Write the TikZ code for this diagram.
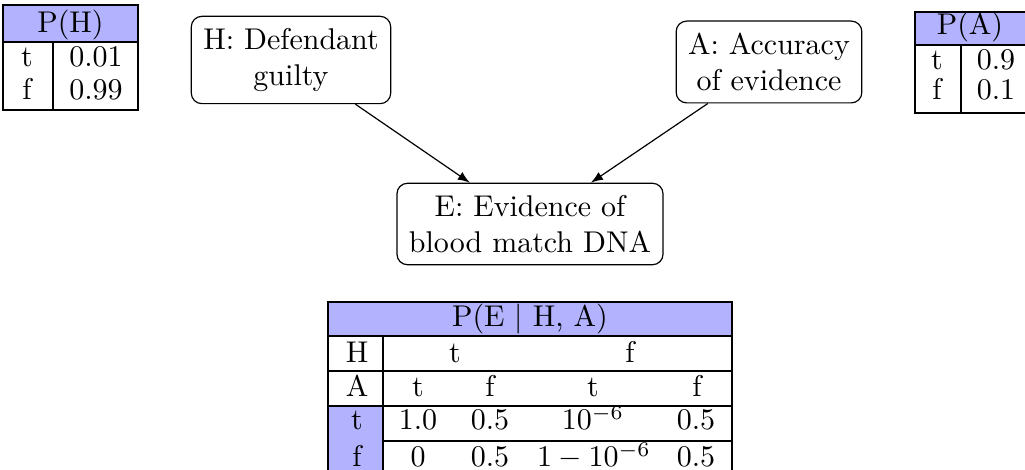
\documentclass[tikz,border=0pt]{standalone}
\usepackage{tikz}
\tikzset{
  var/.style={draw,rounded corners=3.5pt,align=center,inner sep=4pt},
  cell/.style={anchor=base,inner sep=0pt},
  head/.style={fill=blue!30}
}

\begin{document}
\begin{tikzpicture}[x=0.011715cm,y=-0.011715cm,>=latex]
	\clip (0,0) rectangle (1025,470);

	% the network
	\node[var] (H) at (291,60) {H: Defendant\\guilty};
	\node[var] (A) at (769,62) {A: Accuracy\\of evidence};
	\node[var] (E) at (530,224) {E: Evidence of\\blood match DNA};

	\path[->]
	(H) edge (E)
	(A) edge (E)
	;

	% P(H)
	\fill[head] (3,5) rectangle (138,42);
	\draw (3,5) rectangle (138,110) (3,42) -- (138,42) (53,42) -- (53,110);
	\node[cell] (pH) at (70.5,33) {P(H)};
	\node[cell] (pHt) at (27,67) {t};
	\node[cell] (pHtv) at (96,67) {0.01};
	\node[cell] (pHf) at (27,100) {f};
	\node[cell] (pHfv) at (96,100) {0.99};

	% P(A)
	\fill[head] (915,12) rectangle (1027,45);
	\draw (915,12) rectangle (1027,113) (915,45) -- (1027,45) (961,45) -- (961,113);
	\node[cell] (pA) at (970,35) {P(A)};
	\node[cell] (pAt) at (937,70) {t};
	\node[cell] (pAtv) at (996,70) {0.9};
	\node[cell] (pAf) at (937,100) {f};
	\node[cell] (pAfv) at (996,100) {0.1};

	% P(E | H, A)
	\fill[head] (328,302) rectangle (732,336);
	\fill[head] (328,406) rectangle (383,480);
	\draw (328,480) -- (328,302) -- (732,302) -- (732,480);
	\foreach \y in {336,371,406}
		\draw (328,\y) -- (732,\y);
	\draw (383,441) -- (732,441);
	\draw (383,336) -- (383,480);

	\node[cell] (pE) at (530,327) {P(E $|$ H, A)};
	\node[cell] (rH) at (357,363) {H};
	\node[cell] (rHt) at (455,363) {t};
	\node[cell] (rHf) at (630,363) {f};
	\node[cell] (rA) at (357,397) {A};
	\foreach \x/\v [count=\i] in {418/t,490/f,593/t,697/f}
		\node[cell] (rA\i) at (\x,397) {\v};
	\node[cell] (rt) at (357,430) {t};
	\foreach \x/\v [count=\i] in {418/1.0,490/0.5,593/$10^{-6}$,696/0.5}
		\node[cell] (rt\i) at (\x,430) {\v};
	\node[cell] (rf) at (357,467) {f};
	\foreach \x/\v [count=\i] in {418/0,490/0.5,594/$1-10^{-6}$,696/0.5}
		\node[cell] (rf\i) at (\x,467) {\v};
\end{tikzpicture}
\end{document}
